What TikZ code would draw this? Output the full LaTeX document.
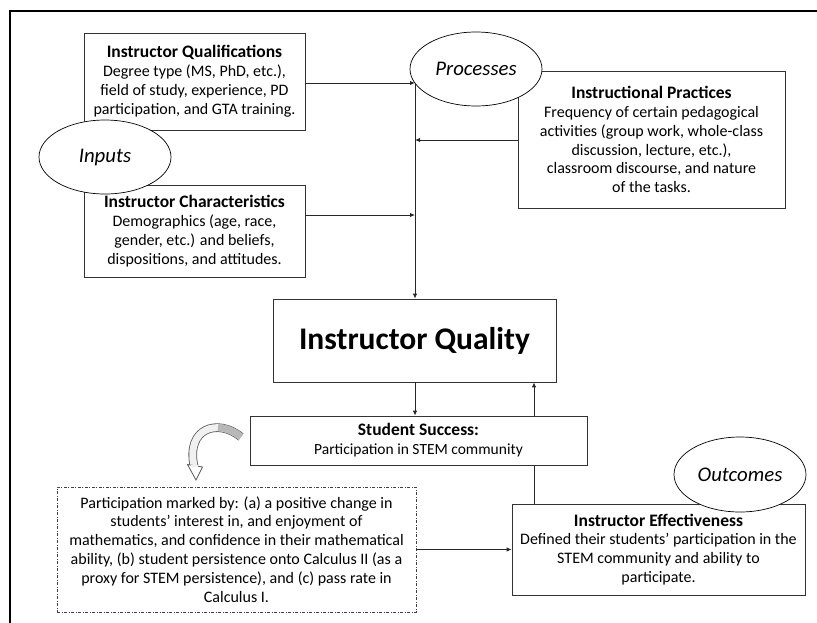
\documentclass[tikz,border=0pt]{standalone}
\usepackage{fontspec}
\setmainfont{Carlito}
\usetikzlibrary{arrows.meta,shapes.geometric}

\newcommand{\boxhead}[1]{{\fontsize{17.5}{19}\selectfont\bfseries #1}}

\tikzset{
  box/.style={draw=black!80, line width=0.8pt, fill=white, align=center, inner sep=0pt,
    font=\fontsize{16}{18.9}\selectfont},
  oval/.style={ellipse, draw=black, line width=0.7pt, fill=white, inner sep=0pt,
    minimum width=132pt, minimum height=74pt, font=\fontsize{20.8}{24}\selectfont\itshape},
  link/.style={draw=black!85, line width=0.9pt},
  flow/.style={link, -{Latex[length=5pt,width=4.5pt]}},
  notebox/.style={box, draw=black!75, line width=0.6pt,
    dash pattern=on 3pt off 1.5pt on 1pt off 1.5pt},
}

\begin{document}
\begin{tikzpicture}[x=1pt,y=-1pt]
\useasboundingbox (0,0) rectangle (817,622);

% outer frame
\draw[line width=2pt, line cap=rect] (10,622) -- (10,11) -- (817,11);

% input boxes
\node[box, minimum width=221pt, minimum height=97pt] (qual) at (194.5,81.5)
  {\boxhead{Instructor Qualifications}\\Degree type (MS, PhD, etc.),\\field of study, experience, PD\\participation, and GTA training.};
\node[box, minimum width=221pt, minimum height=92pt] (chars) at (194.5,231)
  {\boxhead{Instructor Characteristics}\\Demographics (age, race,\\gender, etc.) and beliefs,\\dispositions, and attitudes.};

% process box
\node[box, minimum width=267pt, minimum height=137pt] (pract) at (651.5,139.5)
  {\boxhead{Instructional Practices}\\Frequency of certain pedagogical\\activities (group work, whole-class\\discussion, lecture, etc.),\\classroom discourse, and nature\\of the tasks.};

% central box
\node[box, minimum width=283pt, minimum height=83pt, font=\fontsize{31.5}{36}\selectfont\bfseries] (quality) at (414.5,340.5)
  {Instructor Quality};

% student success
\node[box, minimum width=337pt, minimum height=49pt] (success) at (418.5,440.5)
  {\boxhead{Student Success:}\\{\fontsize{15.5}{18.5}\selectfont Participation in STEM community}};

% outcome box
\node[box, minimum width=293pt, minimum height=91pt] (effect) at (658.5,549.5)
  {\boxhead{Instructor Effectiveness}\\Defined their students' participation in the\\STEM community and ability to\\participate.};

% note box
\node[notebox, minimum width=359pt, minimum height=125pt] (note) at (236.5,549.5)
  {Participation marked by: (a) a positive change in\\students' interest in, and enjoyment of\\mathematics, and confidence in their mathematical\\ability, (b) student persistence onto Calculus II (as a\\proxy for STEM persistence), and (c) pass rate in\\Calculus I.};

% stage labels
\node[oval] (inputs) at (105,157) {Inputs};
\node[oval] (processes) at (476,69) {Processes};
\node[oval, minimum height=75pt] (outcomes) at (740,474.5) {Outcomes};

% junctions on the collecting line
\coordinate (j1) at (415,83);
\coordinate (j2) at (415,140);
\coordinate (j3) at (415,215);
\coordinate (j4) at (534,0);

% connectors
\draw[flow] (j1 -| qual.east) -- (j1);
\draw[flow] (j2 -| pract.west) -- (j2);
\draw[flow] (j3 -| chars.east) -- (j3);
\draw[flow] (j1) -- (j1 |- quality.north);
\draw[flow] (j1 |- quality.south) -- (j1 |- success.north);
\draw[flow] (j4 |- success.north) -- (j4 |- quality.south);
\draw[link] (j4 |- effect.north) -- (j4 |- success.south);
\draw[flow] (note.east) -- (effect.west);

% curved block arrow from student success to the note
\draw[line width=8.6pt, black!65] (241,437) .. controls (218,418) and (186,428) .. (194,466);
\draw[line width=7pt, black!6] (241,437) .. controls (218,418) and (186,428) .. (194,466);
\draw[line width=7pt, black!28] (241,437) .. controls (234,431) and (226,428) .. (218,427.5);
\filldraw[draw=black!65, fill=white, line width=0.8pt, line join=miter]
  (187.5,464.5) -- (202.5,467) -- (196,480) -- cycle;
\fill[black!6] (191,465.3) rectangle (198,466.6);
\end{tikzpicture}
\end{document}
